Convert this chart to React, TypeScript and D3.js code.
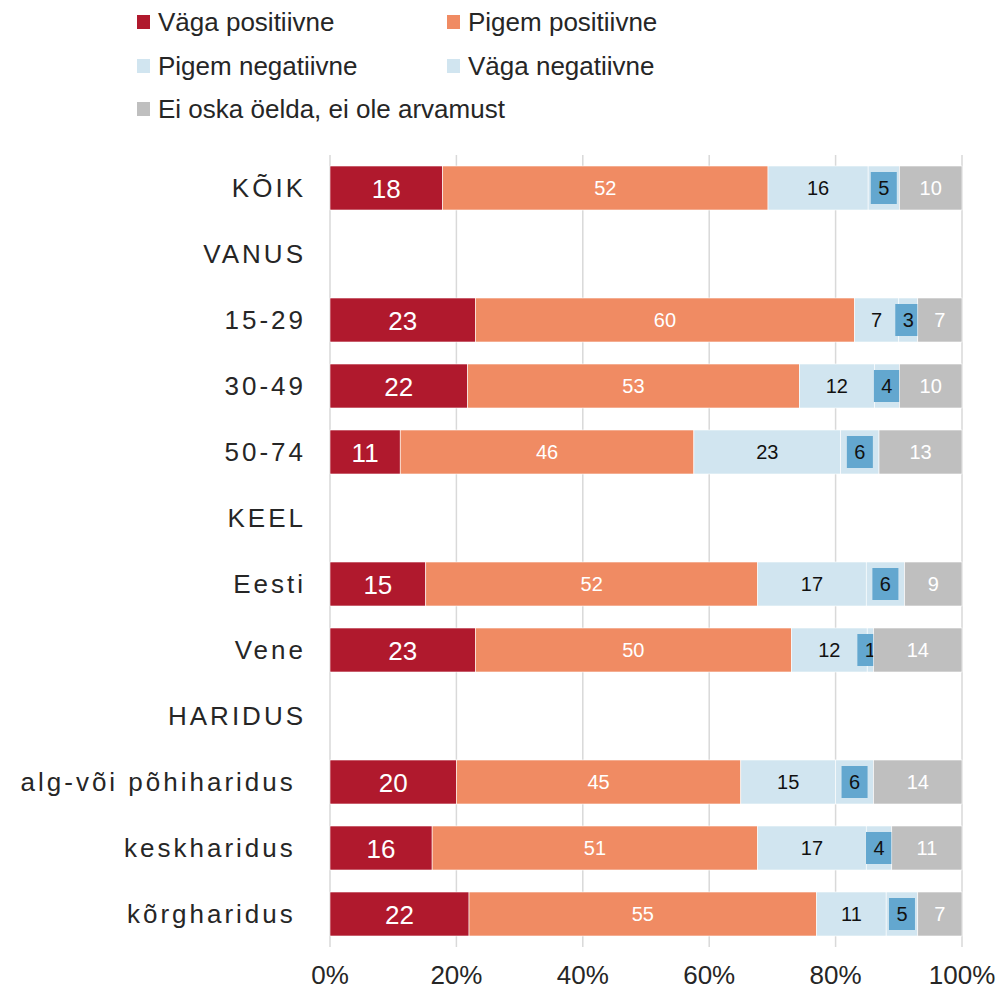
import React from 'react';
import * as d3 from 'd3';

// rows of the chart; header rows (VANUS, KEEL, HARIDUS) carry no bars
const CATEGORIES = ['KÕIK', 'VANUS', '15-29', '30-49', '50-74', 'KEEL', 'Eesti', 'Vene', 'HARIDUS', 'alg-või põhiharidus ', 'keskharidus ', 'kõrgharidus '];
const VAGA_POS = [18, null, 23, 22, 11, null, 15, 23, null, 20, 16, 22];
const PIGEM_POS = [52, null, 60, 53, 46, null, 52, 50, null, 45, 51, 55];
const PIGEM_NEG = [16, null, 7, 12, 23, null, 17, 12, null, 15, 17, 11];
const VAGA_NEG = [5, null, 3, 4, 6, null, 6, 1, null, 6, 4, 5];
const EI_OSKA = [10, null, 7, 10, 13, null, 9, 14, null, 14, 11, 7];

const SERIES = ['Väga positiivne', 'Pigem positiivne', 'Pigem negatiivne', 'Väga negatiivne', 'Ei oska öelda, ei ole arvamust'];
const COLORS = ['#b0192d', '#f08b63', '#d1e5f0', '#d1e5f0', '#bfbfbf'];
const TICKS = [0, 0.2, 0.4, 0.6, 0.8, 1];

const W = 1000, H = 990;
const FONT = '"Liberation Sans", Arial, sans-serif';

export default function App() {
  const rows = CATEGORIES.map((c, i) => ({
    cat: c,
    has: VAGA_POS[i] != null,
    s0: VAGA_POS[i] ?? 0,
    s1: PIGEM_POS[i] ?? 0,
    s2: PIGEM_NEG[i] ?? 0,
    s3: VAGA_NEG[i] ?? 0,
    s4: EI_OSKA[i] ?? 0,
  }));
  const keys = ['s0', 's1', 's2', 's3', 's4'];
  const stacked = d3.stack<any>().keys(keys).offset(d3.stackOffsetExpand)(rows);

  const x = d3.scaleLinear().domain([0, 1]).range([330, 962]);
  const y = d3.scaleBand().domain(CATEGORIES).range([155, 947]).paddingInner(1 / 3).paddingOuter(1 / 6);
  const bh = y.bandwidth();

  const legendPos = [
    [137, 22], [447, 22],
    [137, 66], [447, 66],
    [137, 109],
  ];

  return (
    <svg width={W} height={H} style={{ position: 'absolute', left: 0, top: 0, fontFamily: FONT }}>
      <rect width={W} height={H} fill="#fff" />
      {/* legend */}
      {SERIES.map((s, i) => (
        <g key={s} transform={`translate(${legendPos[i][0]},${legendPos[i][1]})`}>
          <rect x={0} y={-7} width={13} height={14} fill={COLORS[i]} />
          <text x={21} y={9} fontSize={26} fill="#262626">{s}</text>
        </g>
      ))}
      {/* gridlines */}
      {TICKS.map(t => (
        <g key={t}>
          <line x1={x(t)} x2={x(t)} y1={155} y2={947} stroke="#d9d9d9" strokeWidth={1.5} />
          <text x={x(t)} y={984} textAnchor="middle" fontSize={26} fill="#262626">{d3.format('.0%')(t)}</text>
        </g>
      ))}
      {/* category labels */}
      {CATEGORIES.map(c => (
        <text key={c} x={306} y={(y(c) ?? 0) + bh / 2 + 9} textAnchor="end" fontSize={26}
          letterSpacing={3} fill="#262626" style={{ whiteSpace: 'pre' }}>{c}</text>
      ))}
      {/* bars */}
      {stacked.map((layer, li) => (
        <g key={layer.key}>
          {layer.map((d, ri) => {
            const r = rows[ri];
            if (!r.has) return null;
            const x0 = x(d[0]), x1 = x(d[1]);
            const yy = y(r.cat) ?? 0;
            const cx = (x0 + x1) / 2, cy = yy + bh / 2;
            const v = (r as any)[layer.key];
            return (
              <g key={ri}>
                <rect x={x0} y={yy} width={x1 - x0} height={bh} fill={COLORS[li]} stroke="#fff" strokeWidth={0.6} />
                {li === 3 && (
                  <rect x={cx - 13} y={cy - 16} width={26} height={32} fill="#63a7cf" />
                )}
                <text x={cx} y={cy + (li === 0 ? 9.5 : 7)} textAnchor="middle"
                  fontSize={li === 0 ? 26 : 20}
                  fill={li === 2 || li === 3 ? '#111' : '#fff'}>{v}</text>
              </g>
            );
          })}
        </g>
      ))}
    </svg>
  );
}
